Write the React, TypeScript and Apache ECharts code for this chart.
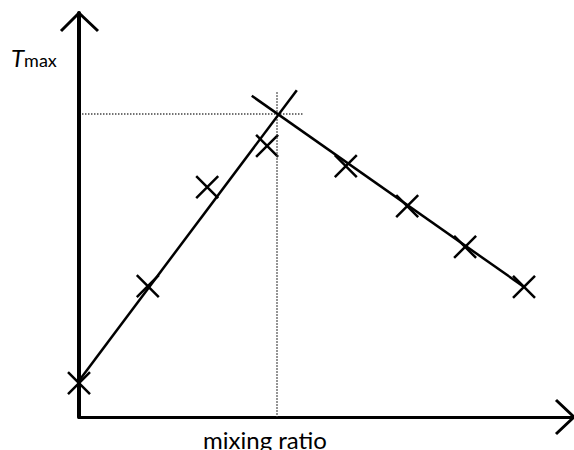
import React, { useEffect, useRef } from "react";
import * as echarts from "echarts";

// Data (arbitrary units: x = mixing ratio 0..100, y = temperature 0..100)
const markerX = [0, 13.9, 25.9, 38.0, 53.9, 66.3, 78.0, 89.9];
const markerY = [8.4, 32.4, 56.9, 67.1, 62.1, 52.2, 42.1, 32.2];
const risingLine = [[0, 9.0], [44.0, 80.9]];
const fallingLine = [[34.9, 79.5], [89.9, 32.2]];
const peakX = 40.0;
const peakY = 75.0;
const xLabel = "mixing ratio";

const L = 79, T = 13, W = 495, H = 404;
const B = T + H;

export default function App() {
  const ref = useRef<HTMLDivElement>(null);
  useEffect(() => {
    const chart = echarts.init(ref.current!, null, { renderer: "svg" });
    const font = "Lato, 'Open Sans', sans-serif";
    chart.setOption({
      animation: false,
      backgroundColor: "#fff",
      grid: { left: L, top: T, width: W, height: H, containLabel: false },
      xAxis: {
        type: "value", min: 0, max: 100,
        axisLine: { show: true, lineStyle: { color: "#000", width: 3 } },
        axisTick: { show: false }, axisLabel: { show: false }, splitLine: { show: false },
      },
      yAxis: {
        type: "value", min: 0, max: 100,
        axisLine: { show: true, lineStyle: { color: "#000", width: 4 } },
        axisTick: { show: false }, axisLabel: { show: false }, splitLine: { show: false },
      },
      series: [
        {
          type: "line", data: [[0.6, peakY], [45.3, peakY]], symbol: "none",
          lineStyle: { color: "#444", width: 1.5, type: "dotted" }, silent: true,
        },
        {
          type: "line", data: [[peakX, 80.4], [peakX, 0]], symbol: "none",
          lineStyle: { color: "#444", width: 1.5, type: "dotted" }, silent: true,
        },
        {
          type: "line", data: risingLine, symbol: "none",
          lineStyle: { color: "#000", width: 2.5 }, silent: true,
        },
        {
          type: "line", data: fallingLine, symbol: "none",
          lineStyle: { color: "#000", width: 2.5 }, silent: true,
        },
        {
          type: "scatter",
          data: markerX.map((x, i) => [x, markerY[i]]),
          symbol: "path://M0,0L20,20M20,0L0,20",
          symbolSize: 22,
          itemStyle: { color: "#000", borderColor: "#000", borderWidth: 2.5, opacity: 1 },
          silent: true,
        },
      ],
      graphic: [
        {
          type: "polyline",
          shape: { points: [[L - 18, T + 18], [L, T], [L + 19, T + 18]] },
          style: { stroke: "#000", lineWidth: 3, fill: "none" },
        },
        {
          type: "polyline",
          shape: { points: [[L + W - 18, B - 17], [L + W, B], [L + W - 18, B + 17]] },
          style: { stroke: "#000", lineWidth: 3, fill: "none" },
        },
        {
          type: "text", x: 11, y: 57,
          style: {
            text: "{t|T}{s|max}",
            fontFamily: font,
            verticalAlign: "middle",
            rich: {
              t: { fontSize: 24, fontStyle: "italic", fontFamily: font, fill: "#000" },
              s: { fontSize: 18, fontFamily: font, fill: "#000", padding: [6, 0, 0, 0] },
            },
          },
        },
        {
          type: "text", x: 265, y: 439,
          style: {
            text: xLabel, fontSize: 24, fontFamily: font, fill: "#000",
            align: "center", verticalAlign: "middle",
          },
        },
      ],
    });
    return () => chart.dispose();
  }, []);
  return (
    <div
      ref={ref}
      style={{ position: "fixed", left: 0, top: 0, width: 574, height: 450 }}
    />
  );
}
